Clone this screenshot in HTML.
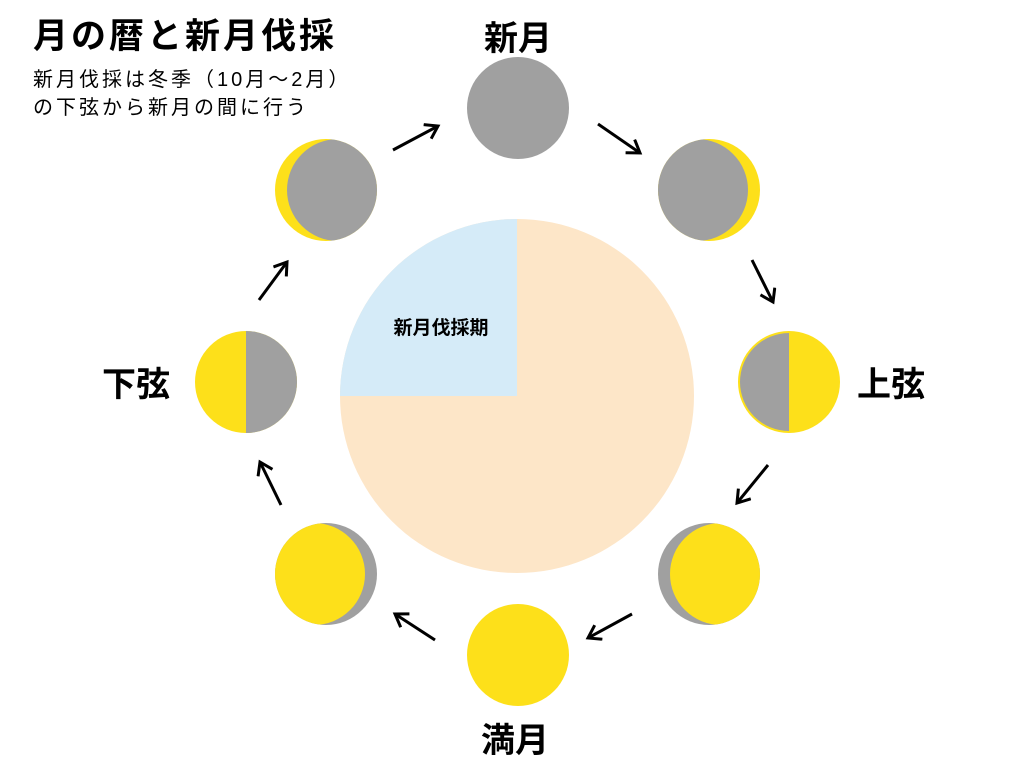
<!DOCTYPE html>
<html><head><meta charset="utf-8"><style>
body{margin:0;background:#fff;width:1024px;height:768px;overflow:hidden}
svg text{font-family:"Liberation Sans","Noto Sans CJK JP",sans-serif}
</style></head><body>
<svg width="1024" height="768" viewBox="0 0 1024 768" xmlns="http://www.w3.org/2000/svg">
<defs>
<clipPath id="c1"><circle cx="709" cy="190" r="51"/></clipPath>
<clipPath id="c2"><circle cx="709" cy="574" r="51"/></clipPath>
<clipPath id="c3"><circle cx="326" cy="574" r="51"/></clipPath>
<clipPath id="c4"><circle cx="326" cy="190" r="51"/></clipPath>
<marker id="a" markerWidth="20" markerHeight="20" refX="14" refY="9" orient="auto" markerUnits="userSpaceOnUse"><path d="M2,1 L14,9 L2,17" fill="none" stroke="#000" stroke-width="3"/></marker>
</defs>
<circle cx="517" cy="396" r="177" fill="#fde6c8"/>
<path d="M517,396 L340,396 A177,177 0 0 1 517,219 Z" fill="#d5ebf8"/>
<text x="441" y="334" font-size="19" font-weight="bold" text-anchor="middle">新月伐採期</text>

<circle cx="518" cy="108" r="51" fill="#a0a0a0"/>
<g clip-path="url(#c1)"><rect x="650" y="130" width="120" height="120" fill="#fde01a"/><circle cx="697" cy="190" r="51" fill="#a0a0a0"/></g>
<circle cx="789" cy="382" r="51" fill="#fde01a"/>
<path d="M789,333 A49,49 0 0 0 789,431 Z" fill="#a0a0a0"/>
<g clip-path="url(#c2)"><rect x="650" y="515" width="120" height="120" fill="#a0a0a0"/><circle cx="721" cy="574" r="51" fill="#fde01a"/></g>
<circle cx="518" cy="655" r="51" fill="#fde01a"/>
<g clip-path="url(#c3)"><rect x="270" y="515" width="120" height="120" fill="#a0a0a0"/><circle cx="314" cy="574" r="51" fill="#fde01a"/></g>
<circle cx="246" cy="382" r="51" fill="#fde01a"/>
<path d="M246,331 A51,51 0 0 1 246,433 Z" fill="#a0a0a0"/>
<g clip-path="url(#c4)"><rect x="270" y="130" width="120" height="120" fill="#fde01a"/><circle cx="338" cy="190" r="51" fill="#a0a0a0"/></g>

<g stroke="#000" stroke-width="3" marker-end="url(#a)">
<line x1="393" y1="150" x2="438" y2="126"/>
<line x1="598" y1="124" x2="640" y2="153"/>
<line x1="752" y1="260" x2="773" y2="302"/>
<line x1="768" y1="465" x2="737" y2="503"/>
<line x1="632" y1="614" x2="588" y2="638"/>
<line x1="435" y1="640" x2="395" y2="614"/>
<line x1="281" y1="505" x2="260" y2="462"/>
<line x1="259" y1="300" x2="287" y2="262"/>
</g>

<g font-size="34" font-weight="bold" text-anchor="middle">
<text x="518" y="50">新月</text>
<text x="891" y="396">上弦</text>
<text x="136" y="396">下弦</text>
<text x="515" y="752">満月</text>
</g>
<text x="33" y="48" font-size="35" font-weight="bold" letter-spacing="3">月の暦と新月伐採</text>
<text x="33" y="86" font-size="20" letter-spacing="3">新月伐採は冬季（10月～2月）</text>
<text x="33" y="114" font-size="20" letter-spacing="3">の下弦から新月の間に行う</text>
</svg>
</body></html>
